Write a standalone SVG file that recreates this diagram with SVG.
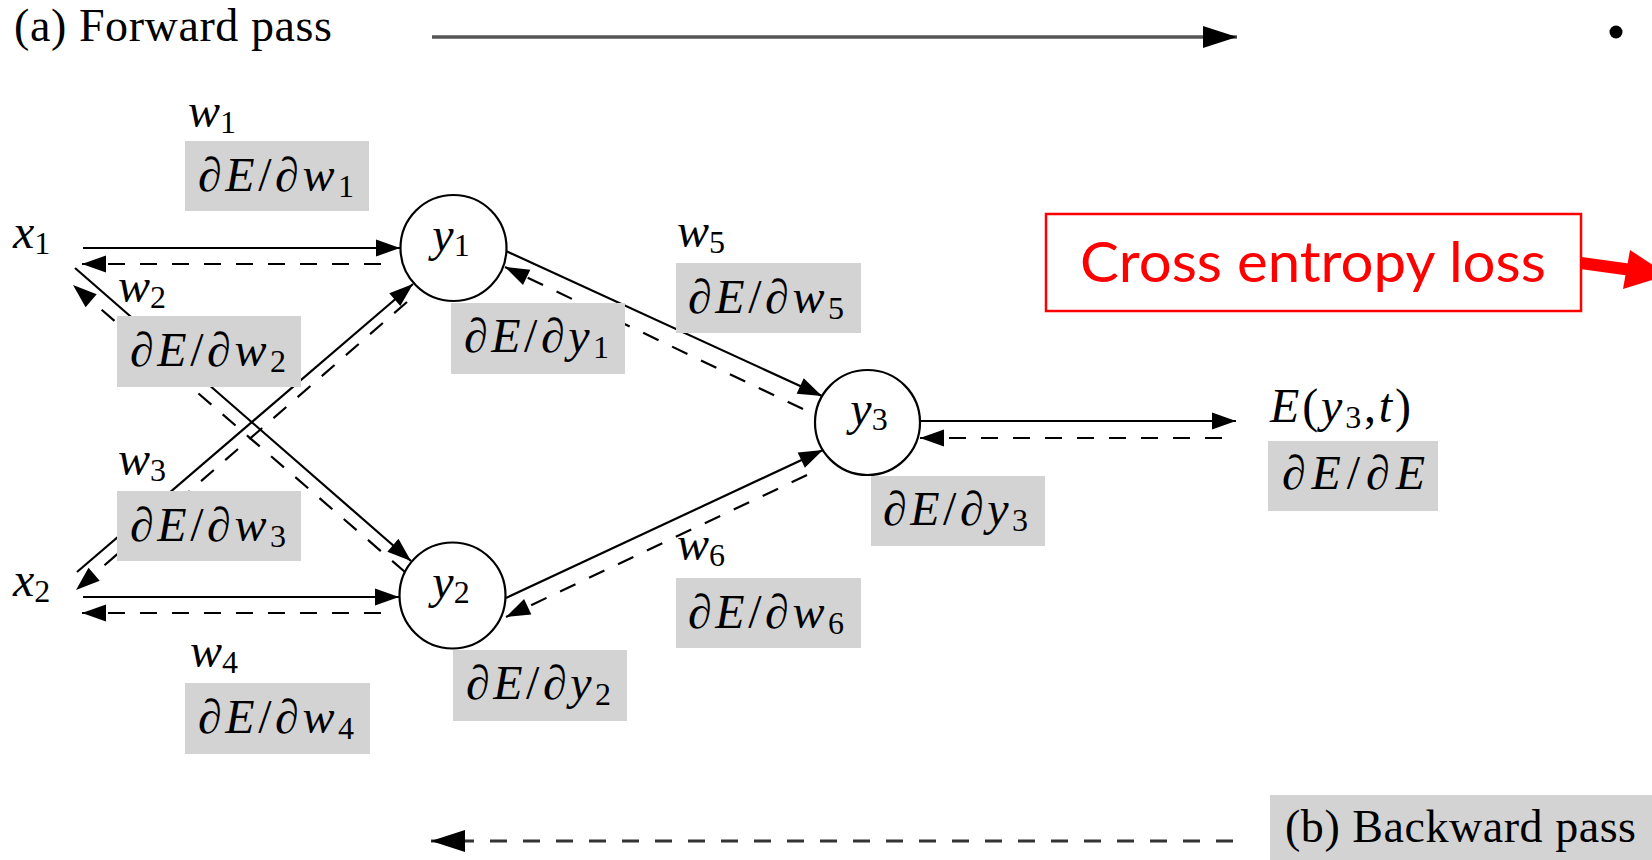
<svg xmlns="http://www.w3.org/2000/svg" width="1652" height="860" viewBox="0 0 1652 860">
  <defs>
    <style>
      .sol { stroke: #000; stroke-width: 2.2; fill: none; }
      .dsh { stroke: #000; stroke-width: 2.2; fill: none; stroke-dasharray: 17 15; }
      .box { fill: #d3d3d3; }
      .node { fill: #fff; stroke: #000; stroke-width: 2.2; }
      .m { font-family: "Liberation Serif", "DejaVu Serif", serif; font-size: 48px; fill: #000; }
      .i { font-style: italic; }
      .s { font-size: 32px; }
      .cap { font-family: "Liberation Serif", "DejaVu Serif", serif; font-size: 46px; fill: #000; }
      .red { font-family: Lato, "Open Sans", sans-serif; font-size: 57px; fill: #ff0000; }
    </style>
    <marker id="ah" markerUnits="userSpaceOnUse" markerWidth="26" markerHeight="18" refX="24" refY="8.5" orient="auto" overflow="visible">
      <path d="M0,0 L24,8.5 L0,17 z" fill="#000"/>
    </marker>
    <marker id="ahBig" markerUnits="userSpaceOnUse" markerWidth="35" markerHeight="23" refX="34" refY="11" orient="auto" overflow="visible">
      <path d="M0,0 L34,11 L0,22 z" fill="#000"/>
    </marker>
  </defs>

  <rect width="1652" height="860" fill="#fff"/>

  <!-- pass direction captions -->
  <g id="forward-caption">
    <text class="cap" x="14" y="41" textLength="318" lengthAdjust="spacing">(a) Forward pass</text>
    <path d="M432,37 L1237,37" stroke="#555" stroke-width="3.5" fill="none" marker-end="url(#ahBig)"/>
  </g>
  <circle id="bullet" cx="1616" cy="32" r="6.5" fill="#000"/>

  <!-- connectors: solid = forward, dashed = backward -->
  <g id="connectors">
    <path class="sol" d="M83,248 L400,248" marker-end="url(#ah)"/>
    <path class="dsh" d="M381,264 L82,264" marker-end="url(#ah)"/>
    <path class="sol" d="M83,597 L399,597" marker-end="url(#ah)"/>
    <path class="dsh" d="M381,613 L82,613" marker-end="url(#ah)"/>
    <path class="sol" d="M75,268 L411,561" marker-end="url(#ah)"/>
    <path class="dsh" d="M405,572 L73,285" marker-end="url(#ah)"/>
    <path class="sol" d="M77,572 L413,284" marker-end="url(#ah)"/>
    <path class="dsh" d="M407,302 L76,590" marker-end="url(#ah)"/>
    <path class="sol" d="M506,251 L822,396" marker-end="url(#ah)"/>
    <path class="dsh" d="M803,409 L505,267" marker-end="url(#ah)"/>
    <path class="sol" d="M506,598 L823,450" marker-end="url(#ah)"/>
    <path class="dsh" d="M807,475 L506,617" marker-end="url(#ah)"/>
    <path class="sol" d="M921,421 L1236,421" marker-end="url(#ah)"/>
    <path class="dsh" d="M1222,438 L920,438" marker-end="url(#ah)"/>
  </g>

  <!-- inputs -->
  <g id="x1">
    <text class="m" x="13" y="248"><tspan class="i">x</tspan><tspan class="s" dy="6">1</tspan></text>
  </g>
  <g id="x2">
    <text class="m" x="13" y="596"><tspan class="i">x</tspan><tspan class="s" dy="6">2</tspan></text>
  </g>

  <!-- neurons -->
  <g id="y1">
    <circle class="node" cx="453.5" cy="248" r="53"/>
    <text class="m" x="451" y="251" text-anchor="middle"><tspan class="i">y</tspan><tspan class="s" dy="5">1</tspan></text>
  </g>
  <g id="y2">
    <circle class="node" cx="452.5" cy="595.5" r="53"/>
    <text class="m" x="451" y="598" text-anchor="middle"><tspan class="i">y</tspan><tspan class="s" dy="5">2</tspan></text>
  </g>
  <g id="y3">
    <circle class="node" cx="867.5" cy="422.5" r="52.5"/>
    <text class="m" x="869" y="425" text-anchor="middle"><tspan class="i">y</tspan><tspan class="s" dy="5">3</tspan></text>
  </g>

  <!-- weights and their gradients -->
  <g id="w1">
    <text class="m i" x="188" y="127">w<tspan class="s" font-style="normal" dy="6">1</tspan></text>
    <rect class="box" x="185" y="141" width="184" height="70"/>
    <text class="m" x="198" y="191" textLength="156" lengthAdjust="spacing">∂<tspan class="i">E</tspan>/∂<tspan class="i">w</tspan><tspan class="s" dy="6">1</tspan></text>
  </g>
  <g id="w2">
    <text class="m i" x="118" y="302">w<tspan class="s" font-style="normal" dy="6">2</tspan></text>
    <rect class="box" x="117" y="316" width="184" height="71"/>
    <text class="m" x="130" y="366" textLength="156" lengthAdjust="spacing">∂<tspan class="i">E</tspan>/∂<tspan class="i">w</tspan><tspan class="s" dy="6">2</tspan></text>
  </g>
  <g id="w3">
    <text class="m i" x="118" y="475">w<tspan class="s" font-style="normal" dy="6">3</tspan></text>
    <rect class="box" x="117" y="491" width="184" height="70"/>
    <text class="m" x="130" y="541" textLength="156" lengthAdjust="spacing">∂<tspan class="i">E</tspan>/∂<tspan class="i">w</tspan><tspan class="s" dy="6">3</tspan></text>
  </g>
  <g id="w4">
    <text class="m i" x="190" y="667">w<tspan class="s" font-style="normal" dy="6">4</tspan></text>
    <rect class="box" x="185" y="683" width="185" height="71"/>
    <text class="m" x="198" y="733" textLength="156" lengthAdjust="spacing">∂<tspan class="i">E</tspan>/∂<tspan class="i">w</tspan><tspan class="s" dy="6">4</tspan></text>
  </g>
  <g id="w5">
    <text class="m i" x="677" y="247">w<tspan class="s" font-style="normal" dy="6">5</tspan></text>
    <rect class="box" x="676" y="263" width="185" height="70"/>
    <text class="m" x="688" y="313" textLength="156" lengthAdjust="spacing">∂<tspan class="i">E</tspan>/∂<tspan class="i">w</tspan><tspan class="s" dy="6">5</tspan></text>
  </g>
  <g id="w6">
    <text class="m i" x="677" y="560">w<tspan class="s" font-style="normal" dy="6">6</tspan></text>
    <rect class="box" x="676" y="578" width="185" height="70"/>
    <text class="m" x="688" y="628" textLength="156" lengthAdjust="spacing">∂<tspan class="i">E</tspan>/∂<tspan class="i">w</tspan><tspan class="s" dy="6">6</tspan></text>
  </g>

  <!-- neuron output gradients -->
  <g id="dy1">
    <rect class="box" x="451" y="303" width="174" height="71"/>
    <text class="m" x="464" y="352" textLength="145" lengthAdjust="spacing">∂<tspan class="i">E</tspan>/∂<tspan class="i">y</tspan><tspan class="s" dy="6">1</tspan></text>
  </g>
  <g id="dy2">
    <rect class="box" x="453" y="650" width="174" height="71"/>
    <text class="m" x="466" y="699" textLength="145" lengthAdjust="spacing">∂<tspan class="i">E</tspan>/∂<tspan class="i">y</tspan><tspan class="s" dy="6">2</tspan></text>
  </g>
  <g id="dy3">
    <rect class="box" x="871" y="476" width="174" height="70"/>
    <text class="m" x="883" y="525" textLength="145" lengthAdjust="spacing">∂<tspan class="i">E</tspan>/∂<tspan class="i">y</tspan><tspan class="s" dy="6">3</tspan></text>
  </g>

  <!-- error output -->
  <g id="error">
    <text class="m" x="1270" y="422" textLength="141" lengthAdjust="spacing"><tspan class="i">E</tspan>(<tspan class="i">y</tspan><tspan class="s" dy="6">3</tspan><tspan dy="-6">,</tspan><tspan class="i">t</tspan>)</text>
    <rect class="box" x="1268" y="441" width="170" height="70"/>
    <text class="m" x="1282" y="489" textLength="143" lengthAdjust="spacing">∂<tspan class="i">E</tspan>/∂<tspan class="i">E</tspan></text>
  </g>

  <!-- loss callout -->
  <g id="loss-callout">
    <rect x="1046" y="214" width="535" height="97" fill="#fff" stroke="#ff0000" stroke-width="2.5"/>
    <text class="red" x="1080" y="282" textLength="466" lengthAdjust="spacingAndGlyphs">Cross entropy loss</text>
    <path d="M1581,263 L1628,269.5" stroke="#ff0000" stroke-width="12" fill="none"/>
    <polygon points="1630,250 1668,275 1623,289" fill="#ff0000"/>
  </g>

  <g id="backward-caption">
    <path d="M1233,841 L431,841" stroke="#333" stroke-width="3" stroke-dasharray="17 16" fill="none" marker-end="url(#ahBig)"/>
    <rect class="box" x="1270" y="795" width="382" height="65"/>
    <text class="cap" x="1285" y="842" textLength="351" lengthAdjust="spacing">(b) Backward pass</text>
  </g>
</svg>
